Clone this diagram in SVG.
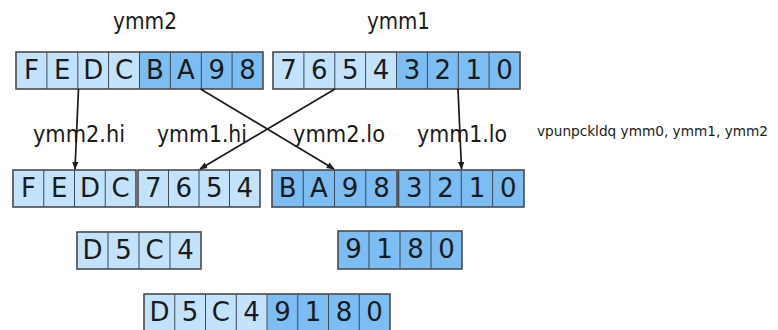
<svg xmlns="http://www.w3.org/2000/svg" width="778" height="330" viewBox="0 0 778 330">
  <style>
    .lt { fill: #c3e2fb; }
    .dk { fill: #7cbdf3; }
    .frame { fill: none; stroke: #4a4a4a; stroke-width: 1.6; }
    .sep { stroke: #3c4a55; stroke-width: 1; }
    .cell { font-family: "DejaVu Sans", Verdana, sans-serif; font-size: 26px; fill: #1a1a1a; text-anchor: middle; }
    .lbl { font-family: "DejaVu Sans", Verdana, sans-serif; font-size: 23px; fill: #1a1a1a; }
    .ins { font-family: "DejaVu Sans", Verdana, sans-serif; font-size: 14px; fill: #1a1a1a; }
    .wire { stroke: #1a1a1a; stroke-width: 1.7; fill: none; marker-end: url(#head); }
  </style>
  <defs>
    <marker id="head" viewBox="0 0 10 10" refX="9" refY="5" markerWidth="8" markerHeight="8" markerUnits="userSpaceOnUse" orient="auto">
      <path d="M0,1 L10,5 L0,9 z" fill="#1a1a1a"/>
    </marker>
  </defs>

  <!-- register names -->
  <text class="lbl" x="113" y="29" textLength="64" lengthAdjust="spacingAndGlyphs">ymm2</text>
  <text class="lbl" x="367" y="29" textLength="63" lengthAdjust="spacingAndGlyphs">ymm1</text>

  <!-- source ymm2 -->
  <g id="src-ymm2">
    <rect class="lt" x="16" y="52" width="123.5" height="37"/>
    <rect class="dk" x="139.5" y="52" width="123.5" height="37"/>
    <path class="sep" d="M46.9,52V89M77.8,52V89M108.6,52V89M139.5,52V89M170.4,52V89M201.3,52V89M232.1,52V89"/>
    <rect class="frame" x="16" y="52" width="247" height="37"/>
    <text class="cell" y="79"><tspan x="31.4">F</tspan><tspan x="62.3">E</tspan><tspan x="93.2">D</tspan><tspan x="124.1">C</tspan><tspan x="154.9">B</tspan><tspan x="185.8">A</tspan><tspan x="216.7">9</tspan><tspan x="247.6">8</tspan></text>
  </g>

  <!-- source ymm1 -->
  <g id="src-ymm1">
    <rect class="lt" x="273" y="52" width="123.5" height="37"/>
    <rect class="dk" x="396.5" y="52" width="123.5" height="37"/>
    <path class="sep" d="M303.9,52V89M334.8,52V89M365.6,52V89M396.5,52V89M427.4,52V89M458.3,52V89M489.1,52V89"/>
    <rect class="frame" x="273" y="52" width="247" height="37"/>
    <text class="cell" y="79"><tspan x="288.4">7</tspan><tspan x="319.3">6</tspan><tspan x="350.2">5</tspan><tspan x="381.1">4</tspan><tspan x="411.9">3</tspan><tspan x="442.8">2</tspan><tspan x="473.7">1</tspan><tspan x="504.6">0</tspan></text>
  </g>

  <!-- lane labels -->
  <text class="lbl" x="33" y="142" textLength="92" lengthAdjust="spacingAndGlyphs">ymm2.hi</text>
  <text class="lbl" x="157" y="142" textLength="90" lengthAdjust="spacingAndGlyphs">ymm1.hi</text>
  <text class="lbl" x="293" y="142" textLength="92" lengthAdjust="spacingAndGlyphs">ymm2.lo</text>
  <text class="lbl" x="417" y="142" textLength="90" lengthAdjust="spacingAndGlyphs">ymm1.lo</text>
  <text class="ins" x="537" y="136" textLength="231" lengthAdjust="spacingAndGlyphs">vpunpckldq ymm0, ymm1, ymm2</text>

  <!-- rearranged lanes -->
  <g id="lane-ymm2-hi">
    <rect class="lt" x="13" y="170" width="123" height="37"/>
    <path class="sep" d="M43.75,170V207M74.5,170V207M105.25,170V207"/>
    <rect class="frame" x="13" y="170" width="123" height="37"/>
    <text class="cell" y="197"><tspan x="28.4">F</tspan><tspan x="59.1">E</tspan><tspan x="89.9">D</tspan><tspan x="120.6">C</tspan></text>
  </g>
  <g id="lane-ymm1-hi">
    <rect class="lt" x="138" y="170" width="122" height="37"/>
    <path class="sep" d="M168.5,170V207M199,170V207M229.5,170V207"/>
    <rect class="frame" x="138" y="170" width="122" height="37"/>
    <text class="cell" y="197"><tspan x="153.3">7</tspan><tspan x="183.8">6</tspan><tspan x="214.3">5</tspan><tspan x="244.8">4</tspan></text>
  </g>
  <g id="lane-ymm2-lo">
    <rect class="dk" x="272" y="170" width="125" height="37"/>
    <path class="sep" d="M303.25,170V207M334.5,170V207M365.75,170V207"/>
    <rect class="frame" x="272" y="170" width="125" height="37"/>
    <text class="cell" y="197"><tspan x="287.6">B</tspan><tspan x="318.9">A</tspan><tspan x="350.1">9</tspan><tspan x="381.4">8</tspan></text>
  </g>
  <g id="lane-ymm1-lo">
    <rect class="dk" x="398.5" y="170" width="125.5" height="37"/>
    <path class="sep" d="M429.9,170V207M461.25,170V207M492.6,170V207"/>
    <rect class="frame" x="398.5" y="170" width="125.5" height="37"/>
    <text class="cell" y="197"><tspan x="414.2">3</tspan><tspan x="445.6">2</tspan><tspan x="476.9">1</tspan><tspan x="508.3">0</tspan></text>
  </g>

  <!-- interleaved halves -->
  <g id="hi-interleave">
    <rect class="lt" x="77" y="232" width="124" height="37"/>
    <path class="sep" d="M108,232V269M139,232V269M170,232V269"/>
    <rect class="frame" x="77" y="232" width="124" height="37"/>
    <text class="cell" y="259"><tspan x="92.5">D</tspan><tspan x="123.5">5</tspan><tspan x="154.5">C</tspan><tspan x="185.5">4</tspan></text>
  </g>
  <g id="lo-interleave">
    <rect class="dk" x="338" y="231" width="124" height="38"/>
    <path class="sep" d="M369,231V269M400,231V269M431,231V269"/>
    <rect class="frame" x="338" y="231" width="124" height="38"/>
    <text class="cell" y="258"><tspan x="353.5">9</tspan><tspan x="384.5">1</tspan><tspan x="415.5">8</tspan><tspan x="446.5">0</tspan></text>
  </g>

  <!-- result ymm0 -->
  <g id="result-ymm0">
    <rect class="lt" x="144" y="294" width="123" height="38"/>
    <rect class="dk" x="267" y="294" width="123" height="38"/>
    <path class="sep" d="M174.75,294V332M205.5,294V332M236.25,294V332M267,294V332M297.75,294V332M328.5,294V332M359.25,294V332"/>
    <rect class="frame" x="144" y="294" width="246" height="38"/>
    <text class="cell" y="321"><tspan x="159.4">D</tspan><tspan x="190.1">5</tspan><tspan x="220.9">C</tspan><tspan x="251.6">4</tspan><tspan x="282.4">9</tspan><tspan x="313.1">1</tspan><tspan x="343.9">8</tspan><tspan x="374.6">0</tspan></text>
  </g>

  <!-- data movement -->
  <g id="connectors">
    <line class="wire" x1="78.5" y1="89" x2="75" y2="169"/>
    <line class="wire" x1="200.5" y1="89" x2="334" y2="169"/>
    <line class="wire" x1="335" y1="89" x2="200" y2="169"/>
    <line class="wire" x1="458" y1="89" x2="461.5" y2="169"/>
  </g>
</svg>
